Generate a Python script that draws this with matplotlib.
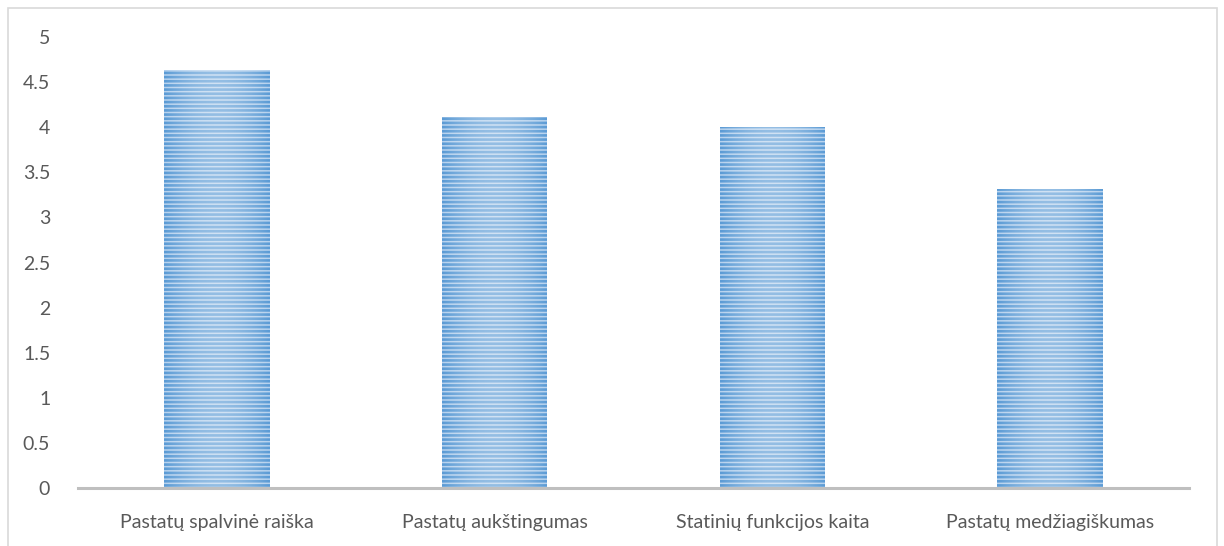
import numpy as np
import matplotlib
matplotlib.use("Agg")
import matplotlib.pyplot as plt
from matplotlib.patches import Rectangle

categories = ["Pastatų spalvinė raiška", "Pastatų aukštingumas",
              "Statinių funkcijos kaita", "Pastatų medžiagiškumas"]
values = [4.63, 4.11, 4.0, 3.31]
y_ticks = [0, 0.5, 1, 1.5, 2, 2.5, 3, 3.5, 4, 4.5, 5]
y_tick_labels = ["0", "0.5", "1", "1.5", "2", "2.5", "3", "3.5", "4", "4.5", "5"]

plt.rcParams["font.family"] = ["Lato", "DejaVu Sans"]
plt.rcParams["hatch.linewidth"] = 1.9

W, H = 1224, 546
fig = plt.figure(figsize=(W / 100, H / 100), dpi=100)
ax = fig.add_axes([78 / W, 58 / H, (1189 - 78) / W, (488 - 37) / H])

x = np.arange(len(categories))
bars = ax.bar(x, values, width=0.38, color="#B7D2EE", hatch="----",
              edgecolor="#5B9BD5", linewidth=0, zorder=2)

# soft horizontal sheen across each bar: lighter in the middle
grad = np.linspace(-1, 1, 64)
alpha = 0.35 * (1 - grad ** 2)
sheen = np.ones((1, 64, 4))
sheen[0, :, 3] = alpha
for b in bars:
    x0, w, h = b.get_x(), b.get_width(), b.get_height()
    im = ax.imshow(sheen, extent=(x0, x0 + w, 0, h), aspect="auto",
                   interpolation="bilinear", zorder=3)
    im.set_clip_path(b)

ax.set_xlim(-0.5, len(categories) - 0.5)
ax.set_ylim(0, 5)
ax.set_yticks(y_ticks)
ax.set_yticklabels(y_tick_labels)
ax.set_xticks(x)
ax.set_xticklabels(categories)
ax.tick_params(axis="both", length=0, labelsize=14, colors="#595959")
ax.tick_params(axis="y", pad=20)
ax.tick_params(axis="x", pad=19)

for side in ("top", "right", "left"):
    ax.spines[side].set_visible(False)
ax.spines["bottom"].set_color("#BFBFBF")
ax.spines["bottom"].set_linewidth(2.2)
ax.spines["bottom"].set_zorder(4)

# chart area frame
fig.patches.append(Rectangle((8 / W, -0.02), (1217 - 8) / W, 1 - 8 / H + 0.02,
                             transform=fig.transFigure, fill=False,
                             edgecolor="#D9D9D9", linewidth=1.2))

fig.savefig("out.png", dpi=100)
